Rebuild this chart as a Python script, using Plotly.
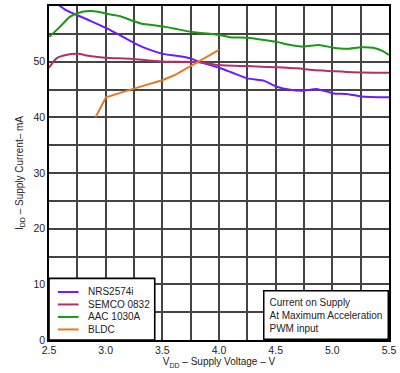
import plotly.graph_objects as go

nrs_v = [2.59, 2.654, 2.756, 2.858, 3.003, 3.12, 3.256, 3.38, 3.505, 3.64, 3.76, 3.82, 4.0, 4.107, 4.25, 4.4, 4.51, 4.63, 4.75, 4.86, 5.01, 5.125, 5.256, 5.5]
nrs_i = [60.1, 59.2, 58.3, 57.4, 56.07, 54.8, 53.3, 52.2, 51.4, 51.0, 50.5, 50.0, 48.9, 48.1, 47.0, 46.55, 45.5, 44.95, 44.8, 45.1, 44.3, 44.2, 43.75, 43.6]

semco_v = [2.5, 2.566, 2.65, 2.756, 2.86, 3.0, 3.235, 3.38, 3.53, 3.82, 4.0, 4.25, 4.5, 4.69, 4.83, 5.0, 5.18, 5.5]
semco_i = [48.9, 50.6, 51.2, 51.4, 51.0, 50.7, 50.5, 50.2, 50.0, 49.9, 49.4, 49.2, 49.0, 48.8, 48.5, 48.3, 48.1, 48.0]

aac_v = [2.503, 2.596, 2.683, 2.756, 2.858, 2.945, 3.03, 3.12, 3.23, 3.32, 3.44, 3.53, 3.64, 3.76, 3.82, 4.0, 4.107, 4.25, 4.4, 4.5, 4.63, 4.75, 4.88, 5.01, 5.125, 5.256, 5.36, 5.445, 5.5]
aac_i = [54.46, 56.25, 58.04, 58.75, 59.1, 58.93, 58.5, 58.2, 57.4, 56.8, 56.5, 56.25, 55.8, 55.35, 55.2, 54.8, 54.35, 54.3, 53.9, 53.6, 53.0, 52.7, 53.0, 52.5, 52.3, 52.6, 52.5, 51.9, 51.2]

bldc_v = [2.91, 3.003, 3.256, 3.505, 3.61, 3.82, 4.0]
bldc_i = [40.0, 43.6, 45.2, 46.7, 47.6, 50.0, 52.1]

x_ticks = [2.5, 2.75, 3.0, 3.25, 3.5, 3.75, 4.0, 4.25, 4.5, 4.75, 5.0, 5.25, 5.5]
x_tick_labels = ["2.5", "", "3.0", "", "3.5", "", "4.0", "", "4.5", "", "5.0", "", "5.5"]
y_ticks = [0, 5, 10, 15, 20, 25, 30, 35, 40, 45, 50, 55, 60]
y_tick_labels = ["0", "", "10", "", "20", "", "30", "", "40", "", "50", "", "60"]

FONT = "Liberation Sans, Arial, sans-serif"
TXT = "#222222"
grid_col = "#444444"

series = [
    ("NRS2574i", nrs_v, nrs_i, "#6a1cff"),
    ("SEMCO 0832", semco_v, semco_i, "#b0306a"),
    ("AAC 1030A", aac_v, aac_i, "#1a9a12"),
    ("BLDC", bldc_v, bldc_i, "#e07b2a"),
]

fig = go.Figure()
for name, xv, yv, col in series:
    shape = "linear" if name == "BLDC" else "spline"
    fig.add_trace(go.Scatter(x=xv, y=yv, name=name, mode="lines", showlegend=False,
                             line=dict(color=col, width=2, shape=shape, smoothing=0.6)))

# compact legend box (bottom-left), drawn in paper coordinates
shapes = [dict(type="rect", xref="paper", yref="paper", x0=0, x1=0.311, y0=0, y1=0.1845,
               layer="above", fillcolor="white", line=dict(color="black", width=1.6))]
annotations = []
for k, (name, _, _, col) in enumerate(series):
    yk = 0.1438 - k * 0.0374
    shapes.append(dict(type="line", xref="paper", yref="paper", x0=0.026, x1=0.087,
                       y0=yk, y1=yk, layer="above", line=dict(color=col, width=2)))
    annotations.append(dict(xref="paper", yref="paper", x=0.108, y=yk, xanchor="left",
                            yanchor="middle", text=name, showarrow=False,
                            font=dict(size=10, color=TXT)))

annotations.append(dict(
    xref="paper", yref="paper", x=1, y=0, xanchor="right", yanchor="bottom",
    text="Current on Supply<br>At Maximum Acceleration<br>PWM input",
    showarrow=False, align="left", bordercolor="black", borderwidth=1.5,
    bgcolor="white", borderpad=5, font=dict(size=10, color=TXT)))

fig.update_layout(
    width=400, height=373,
    margin=dict(l=49, r=7, t=4, b=33),
    paper_bgcolor="white", plot_bgcolor="white",
    font=dict(family=FONT, size=10, color=TXT),
    showlegend=False,
    shapes=shapes,
    annotations=annotations,
    xaxis=dict(range=[2.5, 5.5], tickvals=x_ticks, ticktext=x_tick_labels,
               showgrid=True, gridcolor=grid_col, gridwidth=1.6,
               showline=True, linecolor="black", linewidth=1.6, mirror=True,
               ticks="", zeroline=False, ticklabeloverflow="allow",
               title=dict(text="V<sub>DD</sub> – Supply Voltage – V", font=dict(size=10), standoff=3),
               tickfont=dict(size=10.5)),
    yaxis=dict(range=[0, 60], tickvals=y_ticks, ticktext=y_tick_labels,
               showgrid=True, gridcolor=grid_col, gridwidth=1.6,
               showline=True, linecolor="black", linewidth=1.6, mirror=True,
               ticks="", zeroline=False,
               title=dict(text="I<sub>DD</sub> – Supply Current– mA", font=dict(size=10), standoff=8),
               tickfont=dict(size=10.5)),
)

fig.write_html("out.html", config={"displayModeBar": False},
               post_script="document.body.style.margin='0';")
